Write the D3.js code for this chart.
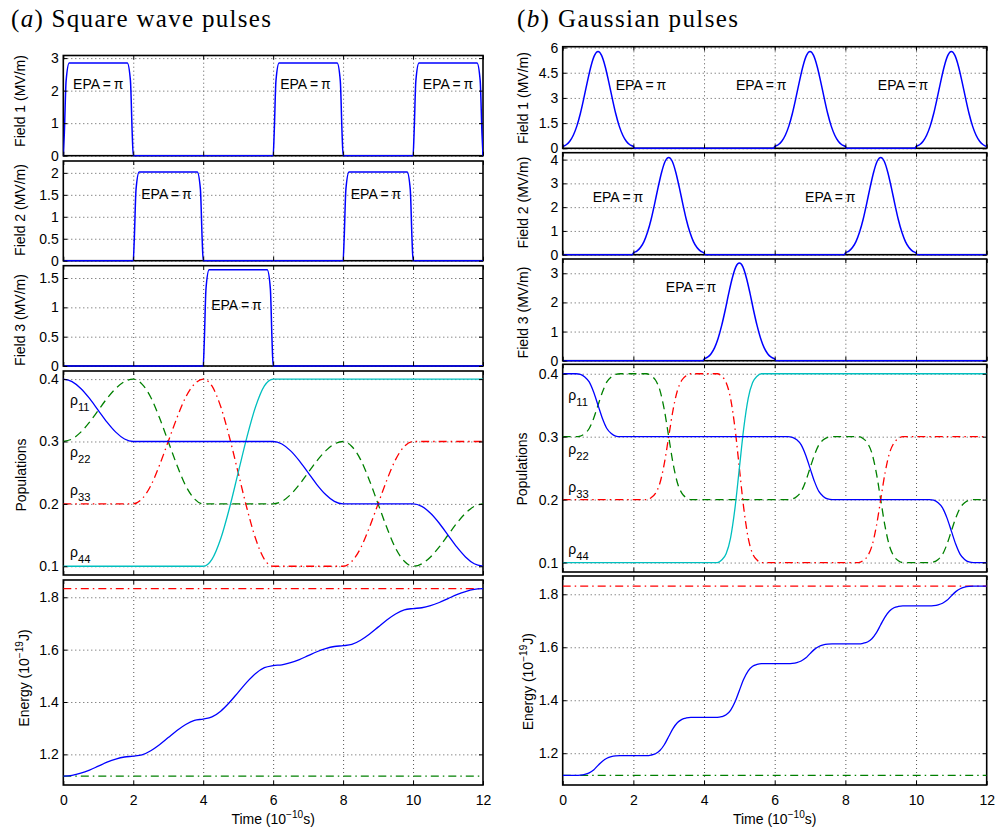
<!DOCTYPE html>
<html><head><meta charset="utf-8">
<script src="https://cdn.jsdelivr.net/npm/d3@7"></script>
<style>
html,body{margin:0;padding:0;background:#fff;}
svg{display:block;}
</style></head><body><svg id="c" width="996" height="831"></svg>
<script>
// ---------------- DATA ----------------
const timeTicks = [0, 2, 4, 6, 8, 10, 12];
const tQuarter = [0,0.25,0.5,0.75,1,1.25,1.5,1.75,2,2.25,2.5,2.75,3,3.25,3.5,3.75,4,4.25,4.5,4.75,5,5.25,5.5,5.75,6,6.25,6.5,6.75,7,7.25,7.5,7.75,8,8.25,8.5,8.75,9,9.25,9.5,9.75,10,10.25,10.5,10.75,11,11.25,11.5,11.75,12];

// (a) square wave pulses: fields as [time, MV/m]
const sqField1 = [[0,0],[0.03,0.7],[0.08,2.3],[0.17,2.85],[1.83,2.85],[1.92,2.3],[1.97,0.7],[2,0],[6,0],[6.03,0.7],[6.08,2.3],[6.17,2.85],[7.83,2.85],[7.92,2.3],[7.97,0.7],[8,0],[10,0],[10.03,0.7],[10.08,2.3],[10.17,2.85],[11.83,2.85],[11.92,2.3],[11.97,0.7],[12,0]];
const sqField2 = [[0,0],[2,0],[2.03,0.5],[2.08,1.63],[2.17,2.02],[3.83,2.02],[3.92,1.63],[3.97,0.5],[4,0],[8,0],[8.03,0.5],[8.08,1.63],[8.17,2.02],[9.83,2.02],[9.92,1.63],[9.97,0.5],[10,0],[12,0]];
const sqField3 = [[0,0],[4,0],[4.03,0.4],[4.08,1.32],[4.17,1.64],[5.83,1.64],[5.92,1.32],[5.97,0.4],[6,0],[12,0]];
// populations on tQuarter
const sqRho11 = [0.400,0.396,0.385,0.369,0.350,0.331,0.315,0.304,0.300,
 0.300,0.300,0.300,0.300,0.300,0.300,0.300,0.300,
 0.300,0.300,0.300,0.300,0.300,0.300,0.300,0.300,
 0.296,0.285,0.269,0.250,0.231,0.215,0.204,0.200,
 0.200,0.200,0.200,0.200,0.200,0.200,0.200,0.200,
 0.196,0.185,0.169,0.150,0.131,0.115,0.104,0.100];
const sqRho22 = [0.300,0.304,0.315,0.331,0.350,0.369,0.385,0.396,0.400,
 0.392,0.371,0.338,0.300,0.262,0.229,0.208,0.200,
 0.200,0.200,0.200,0.200,0.200,0.200,0.200,0.200,
 0.204,0.215,0.231,0.250,0.269,0.285,0.296,0.300,
 0.292,0.271,0.238,0.200,0.162,0.129,0.108,0.100,
 0.104,0.115,0.131,0.150,0.169,0.185,0.196,0.200];
const sqRho33 = [0.200,0.200,0.200,0.200,0.200,0.200,0.200,0.200,0.200,
 0.208,0.229,0.262,0.300,0.338,0.371,0.392,0.400,
 0.389,0.356,0.307,0.250,0.193,0.144,0.111,0.100,
 0.100,0.100,0.100,0.100,0.100,0.100,0.100,0.100,
 0.108,0.129,0.162,0.200,0.238,0.271,0.292,0.300,
 0.300,0.300,0.300,0.300,0.300,0.300,0.300,0.300];
const sqRho44 = [0.100,0.100,0.100,0.100,0.100,0.100,0.100,0.100,0.100,
 0.100,0.100,0.100,0.100,0.100,0.100,0.100,0.100,
 0.111,0.144,0.193,0.250,0.307,0.356,0.389,0.400,
 0.400,0.400,0.400,0.400,0.400,0.400,0.400,0.400,
 0.400,0.400,0.400,0.400,0.400,0.400,0.400,0.400,
 0.400,0.400,0.400,0.400,0.400,0.400,0.400,0.400];
const sqEnergy = [1.117,1.120,1.128,1.140,1.155,1.170,1.182,1.190,1.193,
 1.198,1.214,1.237,1.264,1.291,1.314,1.330,1.335,
 1.343,1.365,1.398,1.437,1.476,1.509,1.531,1.539,
 1.542,1.550,1.562,1.577,1.592,1.604,1.612,1.615,
 1.620,1.636,1.659,1.686,1.713,1.736,1.752,1.757,
 1.760,1.768,1.780,1.795,1.810,1.822,1.830,1.833];
const sqEnergyBounds = [1.117, 1.833];

// (b) Gaussian pulses
const gaField1 = [[0,0.10],[0.1,0.21],[0.2,0.42],[0.3,0.78],[0.4,1.32],[0.5,2.07],[0.6,3.00],[0.7,3.99],[0.8,4.89],[0.9,5.53],[1,5.76],[1.1,5.53],[1.2,4.89],[1.3,3.99],[1.4,3.00],[1.5,2.07],[1.6,1.32],[1.7,0.78],[1.8,0.42],[1.9,0.21],[2,0.10],[2.03,0],
 [5.97,0],[6,0.10],[6.1,0.21],[6.2,0.42],[6.3,0.78],[6.4,1.32],[6.5,2.07],[6.6,3.00],[6.7,3.99],[6.8,4.89],[6.9,5.53],[7,5.76],[7.1,5.53],[7.2,4.89],[7.3,3.99],[7.4,3.00],[7.5,2.07],[7.6,1.32],[7.7,0.78],[7.8,0.42],[7.9,0.21],[8,0.10],[8.03,0],
 [9.97,0],[10,0.10],[10.1,0.21],[10.2,0.42],[10.3,0.78],[10.4,1.32],[10.5,2.07],[10.6,3.00],[10.7,3.99],[10.8,4.89],[10.9,5.53],[11,5.76],[11.1,5.53],[11.2,4.89],[11.3,3.99],[11.4,3.00],[11.5,2.07],[11.6,1.32],[11.7,0.78],[11.8,0.42],[11.9,0.21],[12,0.10]];
const gaField2 = [[0,0],[1.97,0],[2,0.07],[2.1,0.15],[2.2,0.30],[2.3,0.55],[2.4,0.94],[2.5,1.47],[2.6,2.13],[2.7,2.83],[2.8,3.47],[2.9,3.93],[3,4.09],[3.1,3.93],[3.2,3.47],[3.3,2.83],[3.4,2.13],[3.5,1.47],[3.6,0.94],[3.7,0.55],[3.8,0.30],[3.9,0.15],[4,0.07],[4.03,0],
 [7.97,0],[8,0.07],[8.1,0.15],[8.2,0.30],[8.3,0.55],[8.4,0.94],[8.5,1.47],[8.6,2.13],[8.7,2.83],[8.8,3.47],[8.9,3.93],[9,4.09],[9.1,3.93],[9.2,3.47],[9.3,2.83],[9.4,2.13],[9.5,1.47],[9.6,0.94],[9.7,0.55],[9.8,0.30],[9.9,0.15],[10,0.07],[10.03,0],[12,0]];
const gaField3 = [[0,0],[3.97,0],[4,0.06],[4.1,0.12],[4.2,0.24],[4.3,0.45],[4.4,0.77],[4.5,1.21],[4.6,1.74],[4.7,2.32],[4.8,2.84],[4.9,3.22],[5,3.35],[5.1,3.22],[5.2,2.84],[5.3,2.32],[5.4,1.74],[5.5,1.21],[5.6,0.77],[5.7,0.45],[5.8,0.24],[5.9,0.12],[6,0.06],[6.03,0],[12,0]];
const gaRho11 = [[0,0.4],[0.375,0.4],[0.5,0.399],[0.625,0.395],[0.75,0.387],[0.875,0.371],[1,0.35],[1.125,0.329],[1.25,0.313],[1.375,0.305],[1.5,0.301],[1.625,0.3],
 [6.375,0.3],[6.5,0.299],[6.625,0.295],[6.75,0.287],[6.875,0.271],[7,0.25],[7.125,0.229],[7.25,0.213],[7.375,0.205],[7.5,0.201],[7.625,0.2],
 [10.375,0.2],[10.5,0.199],[10.625,0.195],[10.75,0.187],[10.875,0.171],[11,0.15],[11.125,0.129],[11.25,0.113],[11.375,0.105],[11.5,0.101],[11.625,0.1],[12,0.1]];
const gaRho22 = [[0,0.3],[0.375,0.3],[0.5,0.301],[0.625,0.305],[0.75,0.313],[0.875,0.329],[1,0.35],[1.125,0.371],[1.25,0.387],[1.375,0.395],[1.5,0.399],[1.625,0.4],
 [2.375,0.4],[2.5,0.397],[2.625,0.39],[2.75,0.374],[2.875,0.343],[3,0.3],[3.125,0.257],[3.25,0.226],[3.375,0.21],[3.5,0.203],[3.625,0.2],
 [6.375,0.2],[6.5,0.201],[6.625,0.205],[6.75,0.213],[6.875,0.229],[7,0.25],[7.125,0.271],[7.25,0.287],[7.375,0.295],[7.5,0.299],[7.625,0.3],
 [8.375,0.3],[8.5,0.297],[8.625,0.29],[8.75,0.274],[8.875,0.243],[9,0.2],[9.125,0.157],[9.25,0.126],[9.375,0.11],[9.5,0.103],[9.625,0.1],
 [10.375,0.1],[10.5,0.101],[10.625,0.105],[10.75,0.113],[10.875,0.129],[11,0.15],[11.125,0.171],[11.25,0.187],[11.375,0.195],[11.5,0.199],[11.625,0.2],[12,0.2]];
const gaRho33 = [[0,0.2],[2.375,0.2],[2.5,0.203],[2.625,0.21],[2.75,0.226],[2.875,0.257],[3,0.3],[3.125,0.343],[3.25,0.374],[3.375,0.39],[3.5,0.397],[3.625,0.4],
 [4.375,0.4],[4.5,0.396],[4.625,0.386],[4.75,0.361],[4.875,0.314],[5,0.25],[5.125,0.186],[5.25,0.139],[5.375,0.114],[5.5,0.104],[5.625,0.1],
 [8.375,0.1],[8.5,0.103],[8.625,0.11],[8.75,0.126],[8.875,0.157],[9,0.2],[9.125,0.243],[9.25,0.274],[9.375,0.29],[9.5,0.297],[9.625,0.3],[12,0.3]];
const gaRho44 = [[0,0.1],[4.375,0.1],[4.5,0.104],[4.625,0.114],[4.75,0.139],[4.875,0.186],[5,0.25],[5.125,0.314],[5.25,0.361],[5.375,0.386],[5.5,0.396],[5.625,0.4],[12,0.4]];
const gaEnergy = [[0,1.116],[0.375,1.116],[0.5,1.117],[0.625,1.120],[0.75,1.126],[0.875,1.137],[1,1.154],[1.125,1.170],[1.25,1.181],[1.375,1.187],[1.5,1.190],[1.625,1.191],
 [2.375,1.191],[2.5,1.193],[2.625,1.198],[2.75,1.210],[2.875,1.232],[3,1.263],[3.125,1.294],[3.25,1.316],[3.375,1.328],[3.5,1.333],[3.625,1.335],
 [4.375,1.335],[4.5,1.338],[4.625,1.345],[4.75,1.362],[4.875,1.393],[5,1.437],[5.125,1.480],[5.25,1.511],[5.375,1.528],[5.5,1.535],[5.625,1.538],
 [6.375,1.538],[6.5,1.539],[6.625,1.542],[6.75,1.548],[6.875,1.559],[7,1.576],[7.125,1.592],[7.25,1.603],[7.375,1.609],[7.5,1.612],[7.625,1.613],
 [8.375,1.613],[8.5,1.615],[8.625,1.620],[8.75,1.632],[8.875,1.654],[9,1.685],[9.125,1.715],[9.25,1.737],[9.375,1.749],[9.5,1.754],[9.625,1.756],
 [10.375,1.756],[10.5,1.757],[10.625,1.760],[10.75,1.766],[10.875,1.777],[11,1.794],[11.125,1.810],[11.25,1.821],[11.375,1.827],[11.5,1.830],[11.625,1.831],[12,1.831]];
const gaEnergyBounds = [1.116, 1.831];

// tick values
const sqField1Ticks = [0, 1, 2, 3];
const sqField2Ticks = [0, 0.5, 1, 1.5, 2];
const sqField3Ticks = [0, 0.5, 1, 1.5];
const gaField1Ticks = [0, 1.5, 3, 4.5, 6];
const gaField2Ticks = [0, 1, 2, 3, 4];
const gaField3Ticks = [0, 1, 2, 3];
const popTicks = [0.1, 0.2, 0.3, 0.4];
const energyTicks = [1.2, 1.4, 1.6, 1.8];

// ---------------- DRAWING ----------------
const FONT = '"Liberation Sans", Arial, Helvetica, sans-serif';
const BLUE = '#0000ff', GREEN = '#008000', RED = '#ff0000', CYAN = '#00bfbf';
const svg = d3.select('#c');
const zip = (ts, vs) => ts.map((t, i) => [t, vs[i]]);
const hline = v => [[0, v], [12, v]];
let clipCount = 0;

function richText(sel, parts, size) {
  let shift = 0;
  parts.forEach(pt => {
    const ts = sel.append('tspan').text(pt.t);
    let target = 0, fs = size;
    if (pt.sup) { target = -size * 0.42; fs = size * 0.72; }
    if (pt.sub) { target = size * 0.4; fs = size * 0.8; }
    ts.attr('font-size', fs);
    if (target !== shift) { ts.attr('dy', target - shift); shift = target; }
  });
}

const solid = null, dashed = '8,5', dashdot = '8,4,1.5,4';
const EPA = [{t: 'EPA\u2009=\u2009\u03c0'}];
const rho = s => [{t: '\u03c1'}, {t: s, sub: true}];

const L = {x0: 63.3, x1: 483};
const R = {x0: 562.7, x1: 986.7};

const panels = [
  {col: L, y0: 55.5, y1: 155.7, yDomain: [0, 3.08], yTicks: sqField1Ticks,
   label: [{t: 'Field 1 (MV/m)'}], lx: 24.5, ly: 101,
   series: [{data: sqField1, color: BLUE, dash: solid, w: 1.5}],
   notes: [{at: [0.28, 2.06], parts: EPA}, {at: [6.2, 2.06], parts: EPA}, {at: [10.28, 2.06], parts: EPA}]},
  {col: L, y0: 161, y1: 260.7, yDomain: [0, 2.27], yTicks: sqField2Ticks,
   label: [{t: 'Field 2 (MV/m)'}], lx: 24.5, ly: 210,
   series: [{data: sqField2, color: BLUE, dash: solid, w: 1.5}],
   notes: [{at: [2.23, 1.41], parts: EPA}, {at: [8.22, 1.41], parts: EPA}]},
  {col: L, y0: 265.7, y1: 366, yDomain: [0, 1.71], yTicks: sqField3Ticks,
   label: [{t: 'Field 3 (MV/m)'}], lx: 24.5, ly: 320,
   series: [{data: sqField3, color: BLUE, dash: solid, w: 1.5}],
   notes: [{at: [4.23, 0.955], parts: EPA}]},
  {col: L, y0: 371, y1: 575, yDomain: [0.086, 0.413], yTicks: popTicks,
   label: [{t: 'Populations'}], lx: 26, ly: 475,
   series: [
     {data: zip(tQuarter, sqRho22), color: GREEN, dash: dashed, w: 1.3},
     {data: zip(tQuarter, sqRho33), color: RED, dash: dashdot, w: 1.3},
     {data: zip(tQuarter, sqRho44), color: CYAN, dash: solid, w: 1.3},
     {data: zip(tQuarter, sqRho11), color: BLUE, dash: solid, w: 1.3}],
   notes: [{at: [0.19, 0.3585], parts: rho('11')}, {at: [0.19, 0.2752], parts: rho('22')},
           {at: [0.19, 0.2143], parts: rho('33')}, {at: [0.19, 0.1149], parts: rho('44')}]},
  {col: L, y0: 580, y1: 785, yDomain: [1.083, 1.866], yTicks: energyTicks,
   label: [{t: 'Energy (10'}, {t: '\u221219', sup: true}, {t: 'J)'}], lx: 29, ly: 678,
   series: [
     {data: hline(sqEnergyBounds[1]), color: RED, dash: dashdot, w: 1.3},
     {data: hline(sqEnergyBounds[0]), color: GREEN, dash: dashdot, w: 1.3},
     {data: zip(tQuarter, sqEnergy), color: BLUE, dash: solid, w: 1.3}],
   notes: [], showX: true},

  {col: R, y0: 46.7, y1: 148.3, yDomain: [0, 6.05], yTicks: gaField1Ticks,
   label: [{t: 'Field 1 (MV/m)'}], lx: 527.5, ly: 98,
   series: [{data: gaField1, color: BLUE, dash: solid, w: 1.5}],
   notes: [{at: [1.5, 3.47], parts: EPA}, {at: [4.905, 3.47], parts: EPA}, {at: [8.92, 3.47], parts: EPA}]},
  {col: R, y0: 152.7, y1: 254.7, yDomain: [0, 4.29], yTicks: gaField2Ticks,
   label: [{t: 'Field 2 (MV/m)'}], lx: 527.5, ly: 202.5,
   series: [{data: gaField2, color: BLUE, dash: solid, w: 1.5}],
   notes: [{at: [0.85, 2.2], parts: EPA}, {at: [6.86, 2.2], parts: EPA}]},
  {col: R, y0: 259, y1: 360.7, yDomain: [0, 3.49], yTicks: gaField3Ticks,
   label: [{t: 'Field 3 (MV/m)'}], lx: 527.5, ly: 312.5,
   series: [{data: gaField3, color: BLUE, dash: solid, w: 1.5}],
   notes: [{at: [2.92, 2.37], parts: EPA}]},
  {col: R, y0: 364.3, y1: 572, yDomain: [0.085, 0.415], yTicks: popTicks,
   label: [{t: 'Populations'}], lx: 526.5, ly: 469,
   series: [
     {data: gaRho22, color: GREEN, dash: dashed, w: 1.3},
     {data: gaRho33, color: RED, dash: dashdot, w: 1.3},
     {data: gaRho44, color: CYAN, dash: solid, w: 1.3},
     {data: gaRho11, color: BLUE, dash: solid, w: 1.3}],
   notes: [{at: [0.16, 0.3583], parts: rho('11')}, {at: [0.16, 0.2725], parts: rho('22')},
           {at: [0.16, 0.2121], parts: rho('33')}, {at: [0.16, 0.1136], parts: rho('44')}]},
  {col: R, y0: 576, y1: 785, yDomain: [1.080, 1.869], yTicks: energyTicks,
   label: [{t: 'Energy (10'}, {t: '\u221219', sup: true}, {t: 'J)'}], lx: 532.5, ly: 681.7,
   series: [
     {data: hline(gaEnergyBounds[1]), color: RED, dash: dashdot, w: 1.3},
     {data: hline(gaEnergyBounds[0]), color: GREEN, dash: dashdot, w: 1.3},
     {data: gaEnergy, color: BLUE, dash: solid, w: 1.3}],
   notes: [], showX: true}
];

function styleAxis(g) {
  g.select('.domain').remove();
  g.attr('font-family', FONT).attr('font-size', 14);
  g.selectAll('line').attr('stroke', '#000').attr('stroke-width', 1);
}

panels.forEach(p => {
  const x = d3.scaleLinear().domain([0, 12]).range([p.col.x0, p.col.x1]);
  const y = d3.scaleLinear().domain(p.yDomain).range([p.y1, p.y0]);
  const w = p.col.x1 - p.col.x0, h = p.y1 - p.y0;
  const g = svg.append('g');
  const clipId = 'clip' + (clipCount++);
  svg.append('clipPath').attr('id', clipId).append('rect')
    .attr('x', p.col.x0).attr('y', p.y0 - 1).attr('width', w).attr('height', h + 2);

  // grid
  const gx = g.append('g').attr('transform', `translate(0,${p.y1})`)
    .call(d3.axisBottom(x).tickValues(timeTicks.filter(t => t > 0 && t < 12)).tickSize(-h).tickFormat(''));
  gx.select('.domain').remove();
  gx.selectAll('line').attr('stroke', '#555').attr('stroke-dasharray', '1,3').attr('stroke-width', 1);
  const gy = g.append('g').attr('transform', `translate(${p.col.x0},0)`)
    .call(d3.axisLeft(y).tickValues(p.yTicks).tickSize(-w).tickFormat(''));
  gy.select('.domain').remove();
  gy.selectAll('line').attr('stroke', '#555').attr('stroke-dasharray', '1,3').attr('stroke-width', 1);

  // frame
  g.append('rect').attr('x', p.col.x0).attr('y', p.y0).attr('width', w).attr('height', h)
    .attr('fill', 'none').attr('stroke', '#000').attr('stroke-width', 1.6);

  // series
  const line = d3.line().x(d => x(d[0])).y(d => y(d[1])).curve(d3.curveMonotoneX);
  p.series.forEach(s => {
    g.append('path').datum(s.data).attr('clip-path', `url(#${clipId})`)
      .attr('d', line).attr('fill', 'none').attr('stroke', s.color)
      .attr('stroke-width', s.w).attr('stroke-dasharray', s.dash);
  });

  // ticks
  const aL = g.append('g').attr('transform', `translate(${p.col.x0},0)`)
    .call(d3.axisLeft(y).tickValues(p.yTicks).tickSizeInner(-4).tickSizeOuter(0).tickPadding(4.5).tickFormat(d => String(d)));
  styleAxis(aL);
  const aR = g.append('g').attr('transform', `translate(${p.col.x1},0)`)
    .call(d3.axisRight(y).tickValues(p.yTicks).tickSizeInner(-4).tickSizeOuter(0).tickFormat(''));
  styleAxis(aR);
  const aT = g.append('g').attr('transform', `translate(0,${p.y0})`)
    .call(d3.axisTop(x).tickValues(timeTicks).tickSizeInner(-4).tickSizeOuter(0).tickFormat(''));
  styleAxis(aT);
  const aB = g.append('g').attr('transform', `translate(0,${p.y1})`)
    .call(d3.axisBottom(x).tickValues(timeTicks).tickSizeInner(-4).tickSizeOuter(0).tickPadding(10)
      .tickFormat(p.showX ? d3.format('d') : ''));
  styleAxis(aB);

  // y label
  const yl = g.append('text').attr('transform', `translate(${p.lx},${p.ly}) rotate(-90)`)
    .attr('text-anchor', 'middle').attr('font-family', FONT).attr('font-size', 14).attr('fill', '#000');
  richText(yl, p.label, 14);

  // annotations
  p.notes.forEach(n => {
    const t = g.append('text').attr('x', x(n.at[0])).attr('y', y(n.at[1]))
      .attr('font-family', FONT).attr('font-size', 14).attr('fill', '#000');
    richText(t, n.parts, 14);
  });

  // x label
  if (p.showX) {
    const xl = g.append('text').attr('x', (p.col.x0 + p.col.x1) / 2).attr('y', 823.5)
      .attr('text-anchor', 'middle').attr('font-family', FONT).attr('font-size', 14).attr('fill', '#000');
    richText(xl, [{t: 'Time (10'}, {t: '\u221210', sup: true}, {t: 's)'}], 14);
  }
});

// titles
function title(xPos, letter, rest, len) {
  const t = svg.append('text').attr('x', xPos).attr('y', 27)
    .attr('font-family', '"Liberation Serif", "Times New Roman", serif').attr('font-size', 25).attr('fill', '#000')
    .attr('textLength', len).attr('lengthAdjust', 'spacing');
  t.append('tspan').text('(');
  t.append('tspan').attr('font-style', 'italic').text(letter);
  t.append('tspan').text(') ' + rest);
}
title(11, 'a', 'Square wave pulses', 260);
title(517, 'b', 'Gaussian pulses', 221);
</script></body></html>
